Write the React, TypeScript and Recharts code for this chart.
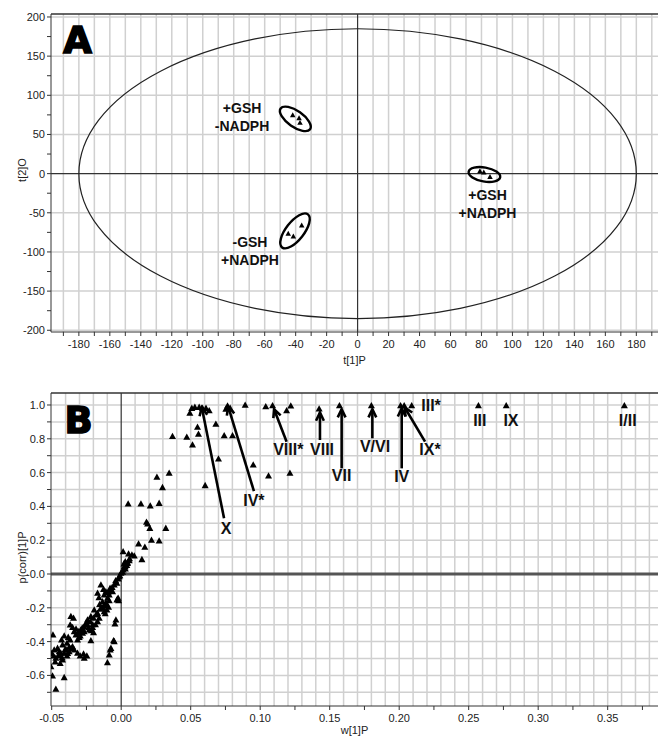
import React from 'react';
import {
  ScatterChart,
  Scatter,
  XAxis,
  YAxis,
  ReferenceLine,
  ReferenceDot,
} from 'recharts';

const FONT = "'Liberation Sans', Arial, sans-serif";
const INK = '#111';
const AXIS = '#333';
const GRID = '#d0d0d0';

// ---------- panel A: score plot t[1] vs t[2]
const A_POINTS = [
  { x: -41.9, y: 74.6 },
  { x: -37.8, y: 70.8 },
  { x: -37.2, y: 64.8 },
  { x: 79, y: 3 },
  { x: 81.5, y: 1.5 },
  { x: 85.5, y: -4.3 },
  { x: -44.8, y: -76.7 },
  { x: -41.5, y: -80.2 },
  { x: -36.1, y: -66.1 },
];
// Hotelling T2 ellipse radii
const A_T2 = { a: 180, b: 185 };
const A_GROUPS = [
  { x: -40.2, y: 69.9, labelX: -74.6, labelY: 72, lines: ['+GSH', '-NADPH'] },
  { x: 81.9, y: -1.1, labelX: 83.9, labelY: -38.6, lines: ['+GSH', '+NADPH'] },
  { x: -40.4, y: -73.1, labelX: -69.5, labelY: -98.7, lines: ['-GSH', '+NADPH'] },
];
const A_X_TICKS = [-190, -180, -170, -160, -150, -140, -130, -120, -110, -100, -90, -80, -70, -60, -50, -40, -30, -20, -10, 0, 10, 20, 30, 40, 50, 60, 70, 80, 90, 100, 110, 120, 130, 140, 150, 160, 170, 180, 190];
const A_Y_TICKS = [-200, -175, -150, -125, -100, -75, -50, -25, 0, 25, 50, 75, 100, 125, 150, 175, 200];
const A_Y_GRID = [-200, -150, -100, -50, 50, 100, 150, 200];

// ---------- panel B: loadings w[1] vs p(corr)[1]
const B_POINTS: [number, number][] = [
  // top band
  [0.0494, 0.951], [0.0508, 0.98], [0.053, 0.986], [0.0561, 0.986], [0.0585, 0.98], [0.061, 0.98],
  [0.0633, 0.966], [0.0549, 0.868], [0.0556, 0.827], [0.0513, 0.763], [0.0472, 0.809], [0.0369, 0.813],
  [0.0681, 0.886], [0.0741, 0.818], [0.0801, 0.818], [0.07, 0.68], [0.0604, 0.523], [0.0753, 0.975],
  [0.0765, 0.994], [0.0784, 0.98], [0.0892, 0.998], [0.104, 0.99], [0.1089, 0.996], [0.119, 0.966],
  [0.122, 0.994], [0.095, 0.645], [0.106, 0.58], [0.1214, 0.596],
  // labelled metabolites
  [0.1424, 0.976], [0.157, 0.995], [0.18, 0.995], [0.201, 0.995], [0.2036, 0.995], [0.209, 0.995],
  [0.257, 0.995], [0.277, 0.995], [0.362, 0.995],
  // middle
  [0.0257, 0.572], [0.0345, 0.596], [0.0297, 0.511], [0.005, 0.414], [0.0142, 0.414], [0.0209, 0.402],
  [0.0273, 0.418], [0.0182, 0.306], [0.019, 0.296], [0.0206, 0.27], [0.0321, 0.27], [0.0218, 0.2],
  [0.0273, 0.195], [0.0125, 0.178], [0.017, 0.158], [0.0149, 0.085], [0.0014, 0.132], [0.0053, 0.118],
  [0.0077, 0.112], [0.0094, 0.107], [0.0029, 0.073], [0.0045, 0.063], [0.0022, 0.043], [-0.0014, -0.016],
  [-0.0002, 0.004], [0.0014, 0.024], [0.0029, 0.043], [0.0045, 0.067], [0.0058, 0.079], [0.001, 0.01],
  [0.003, 0.03], [0.004, 0.05], [0.006, 0.09], [0.002, 0.06],
  // negative band
  [-0.0146, -0.065], [-0.0127, -0.091], [-0.011, -0.105], [-0.0094, -0.11], [-0.0074, -0.099], [-0.005, -0.065],
  [-0.0031, -0.055], [-0.0122, -0.124], [-0.0099, -0.144], [-0.0086, -0.124], [-0.0062, -0.105], [-0.017, -0.114],
  [-0.0134, -0.164], [-0.011, -0.17], [-0.0086, -0.158], [-0.0151, -0.209], [-0.0122, -0.223], [-0.0103, -0.213],
  [-0.0091, -0.197], [-0.0022, -0.144], [-0.0031, -0.154], [-0.0194, -0.213], [-0.0182, -0.243], [-0.017, -0.233],
  [-0.0158, -0.262], [-0.0199, -0.262], [-0.017, -0.282], [-0.0038, -0.272], [-0.0045, -0.296], [-0.0242, -0.272],
  [-0.0218, -0.252], [-0.0254, -0.292], [-0.0223, -0.282], [-0.0362, -0.252], [-0.0343, -0.262], [-0.0266, -0.312],
  [-0.0242, -0.302], [-0.0206, -0.316], [-0.029, -0.331], [-0.0266, -0.341], [-0.023, -0.331], [-0.0199, -0.347],
  [-0.0314, -0.351], [-0.0295, -0.367], [-0.0367, -0.302], [-0.035, -0.316], [-0.0338, -0.341], [-0.0326, -0.361],
  [-0.041, -0.367], [-0.0381, -0.375], [-0.0367, -0.39], [-0.0429, -0.39], [-0.0422, -0.42], [-0.039, -0.41],
  [-0.0398, -0.446], [-0.0374, -0.434], [-0.035, -0.43], [-0.0314, -0.39], [-0.0302, -0.375], [-0.0278, -0.351],
  [-0.0218, -0.395], [-0.0491, -0.361], [-0.0482, -0.45], [-0.0458, -0.44], [-0.0446, -0.46], [-0.0487, -0.485],
  [-0.047, -0.499], [-0.0453, -0.485], [-0.0434, -0.469], [-0.041, -0.469], [-0.039, -0.485], [-0.0374, -0.46],
  [-0.0338, -0.45], [-0.0314, -0.469], [-0.0295, -0.485], [-0.0266, -0.499], [-0.0271, -0.473], [-0.0247, -0.485],
  [-0.0506, -0.548], [-0.0494, -0.604], [-0.0439, -0.529], [-0.0422, -0.509], [-0.041, -0.613], [-0.047, -0.682],
  [-0.0099, -0.525], [-0.0086, -0.479], [-0.0079, -0.45], [-0.0055, -0.395], [-0.0074, -0.44], [-0.005, -0.4],
  [-0.0026, -0.15], [-0.0019, -0.158], [-0.002, -0.03], [-0.004, -0.04], [-0.001, -0.01],
  [-0.0205, -0.3], [-0.0215, -0.335], [-0.0235, -0.318], [-0.0185, -0.3], [-0.012, -0.19], [-0.0105, -0.18],
  [-0.0135, -0.2], [-0.0115, -0.235], [-0.0445, -0.48], [-0.0405, -0.45], [-0.0385, -0.47], [-0.0425, -0.495],
  [-0.036, -0.44], [-0.0305, -0.34], [-0.028, -0.32], [-0.0325, -0.325], [-0.0155, -0.18], [-0.008, -0.085],
  [-0.0065, -0.08], [-0.016, -0.14], [-0.0475, -0.52], [-0.05, -0.47],
];
// arrows: from label end (x1,y1) to metabolite (x2,y2)
const B_ARROWS = [
  { x1: 0.074, y1: 0.33, x2: 0.058, y2: 0.985 },
  { x1: 0.0955, y1: 0.49, x2: 0.077, y2: 0.99 },
  { x1: 0.119, y1: 0.783, x2: 0.11, y2: 0.975 },
  { x1: 0.143, y1: 0.793, x2: 0.143, y2: 0.955 },
  { x1: 0.1586, y1: 0.625, x2: 0.1586, y2: 0.975 },
  { x1: 0.1807, y1: 0.803, x2: 0.1807, y2: 0.975 },
  { x1: 0.2018, y1: 0.625, x2: 0.2018, y2: 0.98 },
  { x1: 0.2186, y1: 0.783, x2: 0.204, y2: 0.985 },
];
const B_LABELS = [
  { x: 0.0754, y: 0.27, text: 'X' },
  { x: 0.0955, y: 0.438, text: 'IV*' },
  { x: 0.1202, y: 0.738, text: 'VIII*' },
  { x: 0.1445, y: 0.74, text: 'VIII' },
  { x: 0.1586, y: 0.586, text: 'VII' },
  { x: 0.1826, y: 0.757, text: 'V/VI' },
  { x: 0.2018, y: 0.58, text: 'IV' },
  { x: 0.2222, y: 0.74, text: 'IX*' },
  { x: 0.2229, y: 1.0, text: 'III*' },
  { x: 0.258, y: 0.911, text: 'III' },
  { x: 0.2804, y: 0.911, text: 'IX' },
  { x: 0.3644, y: 0.911, text: 'I/II' },
];
const B_X_TICKS = [-0.05, -0.025, 0, 0.025, 0.05, 0.075, 0.1, 0.125, 0.15, 0.175, 0.2, 0.225, 0.25, 0.275, 0.3, 0.325, 0.35, 0.375];
const B_Y_TICKS = [-0.7, -0.6, -0.5, -0.4, -0.3, -0.2, -0.1, 0, 0.1, 0.2, 0.3, 0.4, 0.5, 0.6, 0.7, 0.8, 0.9, 1.0];

// ---------- layout
const W = 658;
const A_H = 372;
const A_MARGIN = { top: 14, right: 0, bottom: 0, left: 0 };
const A_X_DOMAIN: [number, number] = [-198, 194];
const A_Y_DOMAIN: [number, number] = [-202.2, 203.8];
const B_H = 370;
const B_MARGIN = { top: 21, right: 0, bottom: 0, left: 0 };
const B_X_DOMAIN: [number, number] = [-0.0505, 0.3862];
const B_Y_DOMAIN: [number, number] = [-0.781, 1.071];
const Y_W = 51;
const A_XAXIS_H = 40;
const B_XAXIS_H = 36;

const A_PX = (W - Y_W) / (A_X_DOMAIN[1] - A_X_DOMAIN[0]);
const A_PY = (A_H - A_MARGIN.top - A_XAXIS_H) / (A_Y_DOMAIN[1] - A_Y_DOMAIN[0]);
const RING_STYLE = [
  { rx: 18, ry: 8, rot: 35 },
  { rx: 16, ry: 7, rot: 10 },
  { rx: 21, ry: 9, rot: -52 },
];

const gridTicks = (lo: number, hi: number, step: number) => {
  const out: number[] = [];
  for (let v = lo; v <= hi + 1e-9; v += step) out.push(Math.round(v * 1000) / 1000);
  return out;
};
const A_X_GRID = A_X_TICKS.filter((v) => v !== 0);
const B_X_GRID = gridTicks(-0.04, 0.38, 0.01).filter((v) => v !== 0);
const B_Y_GRID = B_Y_TICKS.filter((v) => v !== 0);

const tickStyle = { fontSize: 11, fill: '#222', fontFamily: FONT };

const triangle = (side: number) => (p: any) => {
  const h = side * 0.9;
  const { cx, cy } = p;
  return (
    <polygon
      points={`${cx},${cy - h * 0.6} ${cx - side / 2},${cy + h * 0.4} ${cx + side / 2},${cy + h * 0.4}`}
      fill="#000"
    />
  );
};

const textShape = (lines: string[], size: number, lh: number) =>
  (p: any) => (
    <text x={p.cx} y={p.cy} textAnchor="middle" fontFamily={FONT} fontWeight="bold" fontSize={size} fill={INK}>
      {lines.map((l, i) => (
        <tspan key={i} x={p.cx} dy={i === 0 ? -((lines.length - 1) * lh) / 2 + size * 0.36 : lh}>
          {l}
        </tspan>
      ))}
    </text>
  );

const bigLetter = (letter: string) => (p: any) => (
  <text x={p.cx} y={p.cy} textAnchor="middle" fontFamily="'DejaVu Sans', sans-serif" fontWeight="bold"
    fontSize={37} fill="#000" stroke="#000" strokeWidth={1.6}>
    {letter}
  </text>
);

const arrowShape = (p: any) => {
  const { x1, y1, x2, y2 } = p;
  const ang = Math.atan2(y2 - y1, x2 - x1);
  const hl = 9;
  const spread = 0.45;
  const lx = x2 - hl * Math.cos(ang - spread);
  const ly = y2 - hl * Math.sin(ang - spread);
  const rx = x2 - hl * Math.cos(ang + spread);
  const ry = y2 - hl * Math.sin(ang + spread);
  return (
    <g>
      <line x1={x1} y1={y1} x2={x2} y2={y2} stroke="#000" strokeWidth={2.6} />
      <polyline points={`${lx},${ly} ${x2},${y2} ${rx},${ry}`} fill="none" stroke="#000" strokeWidth={2.6} />
    </g>
  );
};

const axisTitleX = (text: string) => (p: any) => {
  const vb = p.viewBox || {};
  return (
    <text x={vb.x + vb.width / 2} y={vb.y + vb.height - 8} textAnchor="middle" fontFamily={FONT} fontSize={11} fill="#222">
      {text}
    </text>
  );
};
const axisTitleY = (text: string, dy = 0) => (p: any) => {
  const vb = p.viewBox || {};
  const cx = vb.x + 22;
  const cy = vb.y + vb.height / 2 + dy;
  return (
    <text x={cx} y={cy} transform={`rotate(-90 ${cx} ${cy})`} textAnchor="middle" dominantBaseline="central"
      fontFamily={FONT} fontSize={11} fill="#222">
      {text}
    </text>
  );
};

const PanelA = () => (
  <ScatterChart width={W} height={A_H} margin={A_MARGIN}>
    <XAxis
      type="number"
      dataKey="x"
      domain={A_X_DOMAIN}
      ticks={A_X_TICKS}
      interval={0}
      allowDataOverflow
      height={A_XAXIS_H}
      tickSize={4}
      tickMargin={4}
      stroke={AXIS}
      tick={tickStyle}
      tickFormatter={(v: number) => (v % 20 === 0 ? String(v) : '')}
      label={{ content: axisTitleX('t[1]P') }}
    />
    <YAxis
      type="number"
      dataKey="y"
      domain={A_Y_DOMAIN}
      ticks={A_Y_TICKS}
      interval={0}
      allowDataOverflow
      width={Y_W}
      tickSize={4}
      tickMargin={2}
      stroke={AXIS}
      tick={tickStyle}
      tickFormatter={(v: number) => (v % 50 === 0 ? String(v) : '')}
      label={{ content: axisTitleY('t[2]O', -3) }}
    />
    {A_X_GRID.map((v) => (
      <ReferenceLine key={'gx' + v} x={v} stroke={GRID} strokeWidth={1.5} />
    ))}
    {A_Y_GRID.map((v) => (
      <ReferenceLine key={'gy' + v} y={v} stroke={GRID} strokeWidth={1.5} />
    ))}
    <ReferenceLine y={A_Y_DOMAIN[1]} stroke={AXIS} strokeWidth={1.5} />
    <ReferenceLine x={0} stroke={AXIS} strokeWidth={1.2} />
    <ReferenceLine y={0} stroke={AXIS} strokeWidth={1.2} />
    <ReferenceDot
      x={0}
      y={0}
      shape={(p: any) => (
        <ellipse cx={p.cx} cy={p.cy} rx={A_T2.a * A_PX} ry={A_T2.b * A_PY} fill="none" stroke="#222" strokeWidth={1.2} />
      )}
    />
    {A_GROUPS.map((g, i) => (
      <ReferenceDot
        key={'ring' + i}
        x={g.x}
        y={g.y}
        shape={(p: any) => (
          <ellipse
            cx={p.cx}
            cy={p.cy}
            rx={RING_STYLE[i].rx}
            ry={RING_STYLE[i].ry}
            transform={`rotate(${RING_STYLE[i].rot} ${p.cx} ${p.cy})`}
            fill="none"
            stroke="#000"
            strokeWidth={2.4}
          />
        )}
      />
    ))}
    {A_GROUPS.map((g, i) => (
      <ReferenceDot key={'lab' + i} x={g.labelX} y={g.labelY} shape={textShape(g.lines, 14, 18)} />
    ))}
    <ReferenceDot x={-180.9} y={153.9} shape={bigLetter('A')} />
    <Scatter data={A_POINTS} shape={triangle(5.5)} fill="#000" isAnimationActive={false} />
  </ScatterChart>
);

const bData = B_POINTS.map(([x, y]) => ({ x, y }));

const PanelB = () => (
  <ScatterChart width={W} height={B_H} margin={B_MARGIN}>
    <XAxis
      type="number"
      dataKey="x"
      domain={B_X_DOMAIN}
      ticks={B_X_TICKS}
      interval={0}
      allowDataOverflow
      height={B_XAXIS_H}
      tickSize={4}
      tickMargin={4}
      stroke={AXIS}
      tick={tickStyle}
      tickFormatter={(v: number) => (Math.round(v * 1000) % 50 === 0 ? v.toFixed(2) : '')}
      label={{ content: axisTitleX('w[1]P') }}
    />
    <YAxis
      type="number"
      dataKey="y"
      domain={B_Y_DOMAIN}
      ticks={B_Y_TICKS}
      interval={0}
      allowDataOverflow
      width={Y_W}
      tickSize={4}
      tickMargin={2}
      stroke={AXIS}
      tick={tickStyle}
      tickFormatter={(v: number) => {
        const k = Math.round(v * 10);
        if (k % 2 !== 0) return '';
        return k === 0 ? '-0.0' : v.toFixed(1);
      }}
      label={{ content: axisTitleY('p(corr)[1]P', 8) }}
    />
    {B_X_GRID.map((v) => (
      <ReferenceLine key={'gx' + v} x={v} stroke={GRID} strokeWidth={1.5} />
    ))}
    {B_Y_GRID.map((v) => (
      <ReferenceLine key={'gy' + v} y={v} stroke={GRID} strokeWidth={1.5} />
    ))}
    <ReferenceLine y={B_Y_DOMAIN[1]} stroke={AXIS} strokeWidth={1.5} />
    <ReferenceLine x={0} stroke={AXIS} strokeWidth={1.2} />
    <ReferenceLine y={0} stroke="#555" strokeWidth={3} />
    <ReferenceDot x={-0.0307} y={0.834} shape={bigLetter('B')} />
    <Scatter data={bData} shape={triangle(7)} fill="#000" isAnimationActive={false} />
    {B_ARROWS.map((a, i) => (
      <ReferenceLine
        key={'arr' + i}
        segment={[{ x: a.x1, y: a.y1 }, { x: a.x2, y: a.y2 }]}
        shape={arrowShape}
      />
    ))}
    {B_LABELS.map((l, i) => (
      <ReferenceDot key={'bl' + i} x={l.x} y={l.y} shape={textShape([l.text], 16, 18)} />
    ))}
  </ScatterChart>
);

export default function App() {
  return (
    <div style={{ position: 'absolute', left: 0, top: 0, width: W, height: 742, background: '#fff', overflow: 'hidden' }}>
      <PanelA />
      <PanelB />
    </div>
  );
}
